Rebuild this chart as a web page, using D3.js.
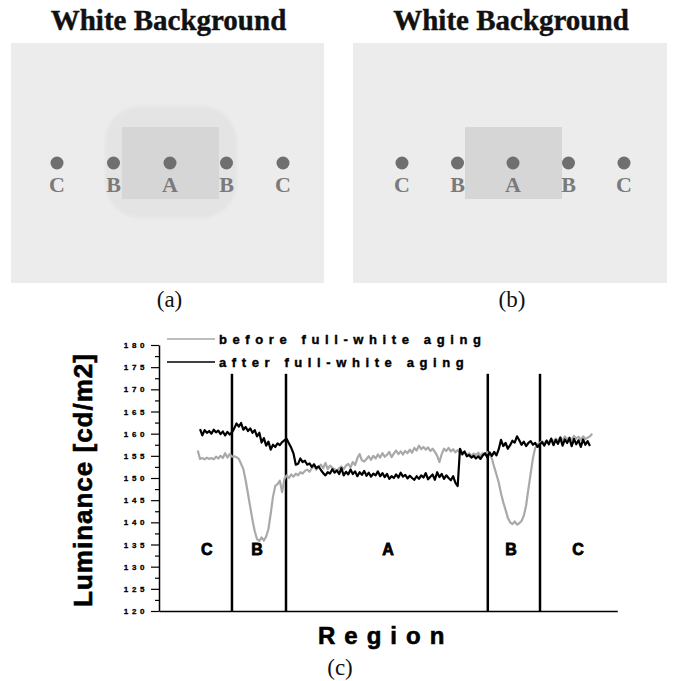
<!DOCTYPE html>
<html><head><meta charset="utf-8">
<script src="https://cdn.jsdelivr.net/npm/d3@7"></script>
<style>body{margin:0;background:#fff}svg{display:block}</style>
</head><body>
<svg id="c" width="674" height="681"></svg>
<script>
// ---------- data ----------
const panelTitles = ["White Background", "White Background"];
const panelCaptions = ["(a)", "(b)", "(c)"];
const pointLabels = ["C", "B", "A", "B", "C"];
const regionLabels = ["C", "B", "A", "B", "C"];
const regionCenters = [21, 43, 100.4, 154.4, 183.8];      // sample position
const regionBoundaries = [32, 55.7, 144.2, 167.1];         // sample position
const yTicks = [120,125,130,135,140,145,150,155,160,165,170,175,180];
const yMinorTicks = [122.5,127.5,132.5,137.5,142.5,147.5,152.5,157.5,162.5,167.5,172.5,177.5];
const seriesNames = ["before full-white aging", "after full-white aging"];
const beforeStart = 17;
const beforeValues = [
156.2,154.3,154.5,154.2,154.6,154.3,154.5,154.2,154.8,154.4,
155.0,154.5,155.6,154.6,155.4,154.8,154.9,154.7,154.3,153.2,
152.0,149.5,146.5,143.5,140.5,138.0,136.2,135.8,136.6,135.9,
136.8,138.5,142.0,145.8,148.2,148.6,149.4,146.8,149.8,150.6,
150.0,150.8,150.3,151.0,150.6,151.3,151.0,151.6,151.9,151.4,
152.2,152.6,151.9,152.4,153.0,152.2,153.4,152.0,152.8,152.3,
152.0,151.6,152.2,152.6,152.0,152.8,153.2,152.4,153.6,152.9,
154.5,155.4,154.0,153.7,154.3,154.9,154.1,155.0,154.4,155.3,
154.6,155.6,154.8,155.2,155.9,154.7,155.5,156.2,155.4,156.0,
155.3,156.1,155.6,156.4,155.7,156.8,156.2,157.3,156.5,157.0,
156.4,156.9,156.1,156.6,155.9,155.0,153.6,155.4,156.6,156.1,
156.8,156.0,156.5,155.8,156.3,155.6,155.2,155.8,155.1,155.6,
155.0,155.5,155.2,155.7,155.0,155.6,155.3,155.8,155.2,154.4,
152.5,150.8,149.0,146.5,144.5,142.8,141.0,140.0,139.6,140.2,
139.5,139.8,140.3,141.5,143.8,147.5,151.0,154.5,156.8,157.6,
157.9,158.3,157.8,158.5,158.0,158.8,158.2,158.9,158.4,159.2,
158.5,159.4,158.7,159.2,158.6,159.5,158.9,159.3,158.6,159.4,
158.8,159.1,159.4,160.0
];
const afterStart = 18;
const afterValues = [
161.0,159.6,160.8,160.2,160.6,160.0,160.9,160.3,160.7,159.9,
160.5,159.6,160.4,159.8,160.3,161.2,162.3,161.6,162.4,160.9,
161.5,160.6,161.2,160.2,160.8,159.4,160.2,158.0,159.0,157.3,
158.2,156.4,157.5,157.0,157.8,157.4,158.1,158.5,158.8,157.8,
156.8,155.5,153.0,153.2,154.4,153.6,153.9,153.0,153.3,152.5,
153.1,152.2,152.6,151.8,151.1,150.6,151.3,151.0,152.0,151.2,
151.7,150.9,152.2,150.6,151.4,150.8,151.9,150.9,151.5,150.4,
151.3,150.7,151.6,150.5,151.2,150.3,151.0,150.6,151.5,150.4,
151.1,150.2,150.9,149.8,150.4,150.0,150.8,150.1,151.2,150.3,
150.7,149.9,150.5,150.0,149.6,150.4,149.8,150.6,150.1,151.1,
149.7,150.3,150.8,149.6,151.3,150.2,150.9,149.8,150.6,150.0,
149.5,150.4,148.9,148.2,156.6,155.4,156.0,154.9,155.2,154.6,
155.0,154.4,154.9,154.3,155.1,155.6,154.6,155.8,155.0,155.9,
155.1,156.5,158.6,157.2,157.9,156.6,157.4,158.4,158.0,159.4,
158.5,157.5,158.2,157.2,157.9,158.3,157.5,157.9,157.0,157.6,
158.1,157.3,158.4,157.6,158.9,157.4,158.6,157.7,159.1,157.3,
158.7,157.9,159.0,157.2,158.8,157.6,158.5,157.0,158.7,157.5,
158.3,157.2
];

// ---------- drawing ----------
const svg = d3.select("#c");
const serif = "'Liberation Serif','Times New Roman',serif";
const sans = "'Liberation Sans',Arial,sans-serif";

const defs = svg.append("defs");
defs.append("filter").attr("id","soft").attr("x","-20%").attr("y","-20%").attr("width","140%").attr("height","140%")
  .append("feGaussianBlur").attr("stdDeviation", 1.5);

function panel(g, x0, w, dotRange, inner, halo, title, caption) {
  g.append("text").attr("x", x0 + w/2 + 1).attr("y", 30).attr("text-anchor","middle")
    .attr("font-family", serif).attr("font-weight","bold").attr("font-size", 29).attr("fill","#111")
    .attr("stroke","#111").attr("stroke-width",0.4).text(title);
  g.append("rect").attr("x", x0).attr("y", 43).attr("width", w).attr("height", 240).attr("fill", "#ececec");
  if (halo) g.append("rect").attr("x", halo[0]).attr("y", halo[1]).attr("width", halo[2]).attr("height", halo[3])
    .attr("rx", 36).attr("fill", "#e4e4e4").attr("filter","url(#soft)");
  g.append("rect").attr("x", inner[0]).attr("y", inner[1]).attr("width", inner[2]).attr("height", inner[3]).attr("fill", "#d6d6d6");
  const px = d3.scalePoint().domain(d3.range(pointLabels.length)).range(dotRange);
  g.selectAll("circle.p").data(pointLabels).join("circle")
    .attr("cx", (d,i) => px(i)).attr("cy", 163).attr("r", 6.5).attr("fill", "#6f6f6f");
  g.selectAll("text.p").data(pointLabels).join("text").attr("class","p")
    .attr("x", (d,i) => px(i)).attr("y", 192).attr("text-anchor","middle")
    .attr("font-family", serif).attr("font-weight","bold").attr("font-size", 22).attr("fill","#7a7a7a").text(d => d);
  g.append("text").attr("x", x0 + w/2 + 2).attr("y", 307).attr("text-anchor","middle")
    .attr("font-family", serif).attr("font-size", 23).attr("fill","#111").text(caption);
}
panel(svg.append("g"), 11, 313, [57, 283], [122,127,97,72], [105,106,132,112], panelTitles[0], panelCaptions[0]);
panel(svg.append("g"), 353, 314, [402, 624], [465,127,97,72], null, panelTitles[1], panelCaptions[1]);

// chart (c)
const x = d3.scaleLinear().domain([0, 201]).range([159, 617.3]);
const y = d3.scaleLinear().domain([120, 180]).range([611, 345]);
const chart = svg.append("g");

// y axis
const yAxis = d3.axisLeft(y).tickValues(yTicks).tickSize(8).tickSizeOuter(0).tickPadding(3).tickFormat(d3.format("d"));
const ya = chart.append("g").attr("transform", `translate(${x(0)},0)`).call(yAxis);
ya.select(".domain").attr("stroke","#000").attr("stroke-width",1.5);
ya.selectAll(".tick line").attr("stroke","#000").attr("stroke-width",1.2);
ya.selectAll(".tick text").attr("font-family", sans).attr("font-weight","bold").attr("font-size", 8)
  .attr("letter-spacing", "3.6px").attr("fill","#000").attr("stroke","#000").attr("stroke-width",0.3);
const yMinor = d3.axisLeft(y).tickValues(yMinorTicks).tickSize(4).tickSizeOuter(0).tickFormat("");
const ym = chart.append("g").attr("transform", `translate(${x(0)},0)`).call(yMinor);
ym.select(".domain").remove();
ym.selectAll(".tick line").attr("stroke","#000").attr("stroke-width",1.2);

// x axis (baseline only)
const xa = chart.append("g").attr("transform", `translate(0,${y(120)})`)
  .call(d3.axisBottom(x).tickValues([]).tickSizeOuter(0));
xa.select(".domain").attr("stroke","#000").attr("stroke-width",1.5);

// region boundaries
chart.selectAll("line.b").data(regionBoundaries).join("line")
  .attr("x1", d => x(d)).attr("x2", d => x(d)).attr("y1", y(173.5)).attr("y2", y(120))
  .attr("stroke","#000").attr("stroke-width",2.5);

// series
const line = d3.line().x(d => x(d[0])).y(d => y(d[1]));
const beforePts = beforeValues.map((v,i) => [beforeStart + i, v]);
const afterPts = afterValues.map((v,i) => [afterStart + i, v]);
chart.append("path").attr("d", line(beforePts)).attr("fill","none").attr("stroke","#a9a9a9").attr("stroke-width",2.2).attr("stroke-linejoin","round");
chart.append("path").attr("d", line(afterPts)).attr("fill","none").attr("stroke","#000").attr("stroke-width",2.2).attr("stroke-linejoin","round");

// region labels
chart.selectAll("text.r").data(regionLabels).join("text").attr("class","r")
  .attr("x", (d,i) => x(regionCenters[i])).attr("y", y(132.6)).attr("text-anchor","middle")
  .attr("font-family", sans).attr("font-weight","bold").attr("font-size", 16).attr("fill","#000")
  .attr("stroke","#000").attr("stroke-width",0.8).text(d => d);

// legend
const legY = [339, 362];
const legColors = ["#a9a9a9", "#000"];
seriesNames.forEach((n, i) => {
  chart.append("line").attr("x1", 167).attr("x2", 215).attr("y1", legY[i]).attr("y2", legY[i])
    .attr("stroke", legColors[i]).attr("stroke-width", 1.6);
  chart.append("text").attr("x", 219).attr("y", legY[i] + 5).attr("font-family", sans).attr("font-weight","bold")
    .attr("font-size", 13).attr("letter-spacing","5.6px").attr("fill","#000")
    .attr("stroke","#000").attr("stroke-width",0.4).text(n);
});

// axis titles
chart.append("text").attr("transform", "translate(92,480) rotate(-90)").attr("text-anchor","middle")
  .attr("font-family", sans).attr("font-weight","bold").attr("font-size", 26).attr("letter-spacing","1px")
  .attr("fill","#000").attr("stroke","#000").attr("stroke-width",0.6).text("Luminance [cd/m2]");
chart.append("text").attr("x", 318).attr("y", 644).attr("font-family", sans).attr("font-weight","bold")
  .attr("font-size", 24).attr("letter-spacing","9px").attr("fill","#000")
  .attr("stroke","#000").attr("stroke-width",0.6).text("Region");
chart.append("text").attr("x", 340).attr("y", 675).attr("text-anchor","middle")
  .attr("font-family", serif).attr("font-size", 23).attr("fill","#111").text(panelCaptions[2]);
</script>
</body></html>
